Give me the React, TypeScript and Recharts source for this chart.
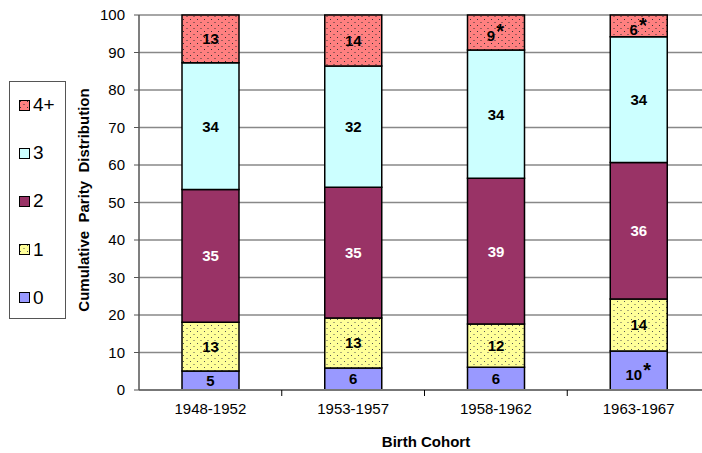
import React from 'react';
import { BarChart, Bar, XAxis, YAxis, CartesianGrid, LabelList } from 'recharts';

const cohorts = ['1948-1952', '1953-1957', '1958-1962', '1963-1967'];
const parity0 = [5.1, 5.9, 6.1, 10.4];
const parity1 = [13.0, 13.3, 11.5, 13.9];
const parity2 = [35.4, 34.9, 38.9, 36.4];
const parity3 = [33.8, 32.3, 34.2, 33.5];
const parity4 = [12.7, 13.6, 9.3, 5.8];
// asterisk marks in the source
const starred0 = [false, false, false, true];
const starred4 = [false, false, true, true];
const yTicks = [0, 10, 20, 30, 40, 50, 60, 70, 80, 90, 100];

const data = cohorts.map((c, i) => ({
  cohort: c,
  p0: parity0[i],
  p1: parity1[i],
  p2: parity2[i],
  p3: parity3[i],
  p4: parity4[i],
}));

const series = [
  { key: 'p0', name: '0', fill: '#9999FF', label: '#000', stars: starred0 },
  { key: 'p1', name: '1', fill: 'url(#dotsYellow)', label: '#000', stars: null },
  { key: 'p2', name: '2', fill: '#993366', label: '#fff', stars: null },
  { key: 'p3', name: '3', fill: '#CCFFFF', label: '#000', stars: null },
  { key: 'p4', name: '4+', fill: 'url(#dotsRed)', label: '#000', stars: starred4 },
];

const FONT = 'Arial, "Liberation Sans", sans-serif';
const CHART_W = 712;
const Y_AXIS_W = 139;
const BAND = (CHART_W - Y_AXIS_W - 2) / cohorts.length;

const makeLabel = (color: string, stars: boolean[] | null) => (props: any) => {
  const { x, y, width, height, value, index } = props;
  const cx = x + width / 2;
  const cy = y + height / 2;
  const n = String(Math.round(value));
  if (stars && stars[index]) {
    const nx = cx - 5;
    return (
      <g>
        <text x={nx} y={cy + 9} textAnchor="middle" fill={color} fontSize={15} fontWeight="bold" fontFamily={FONT}>{n}</text>
        <text x={nx + n.length * 4.2 + 1} y={cy + 6} textAnchor="start" fill={color} fontSize={20} fontWeight="bold" fontFamily={FONT}>*</text>
      </g>
    );
  }
  return (
    <text x={cx} y={cy + 5.5} textAnchor="middle" fill={color} fontSize={15} fontWeight="bold" fontFamily={FONT}>{n}</text>
  );
};

const CohortTick = (props: any) => {
  const { x, y, payload } = props;
  return (
    <g>
      <text x={x} y={y + 24} textAnchor="middle" fill="#000" fontSize={15} fontFamily={FONT}>{payload.value}</text>
      <line x1={x + BAND / 2} x2={x + BAND / 2} y1={y} y2={y + 6} stroke="#000" strokeWidth={1} />
    </g>
  );
};

export default function App() {
  return (
    <div style={{ position: 'absolute', left: 0, top: 0, width: 702, height: 453, overflow: 'hidden', background: '#fff', fontFamily: FONT }}>
      <BarChart width={CHART_W} height={453} data={data} margin={{ top: 15, right: 2, bottom: 0, left: 0 }} barSize={57}>
        <defs>
          <pattern id="dotsYellow" width="7" height="6" patternUnits="userSpaceOnUse">
            <rect width="7" height="6" fill="#FFFF99" />
            <rect x="1" y="1" width="1" height="1" fill="#555" />
            <rect x="4.5" y="4" width="1" height="1" fill="#555" />
          </pattern>
          <pattern id="dotsRed" width="7" height="6" patternUnits="userSpaceOnUse">
            <rect width="7" height="6" fill="#FF8080" />
            <rect x="1" y="1" width="1" height="1" fill="#333" />
            <rect x="4.5" y="4" width="1" height="1" fill="#333" />
          </pattern>
        </defs>
        <CartesianGrid vertical={false} stroke="#888" strokeWidth={1.5} />
        <XAxis
          dataKey="cohort"
          height={63}
          tick={<CohortTick />}
          tickLine={false}
          tickSize={0}
          tickMargin={0}
          axisLine={{ stroke: '#777', strokeWidth: 2 }}
          interval={0}
        />
        <YAxis
          width={Y_AXIS_W}
          domain={[0, 100]}
          ticks={yTicks}
          tickSize={5}
          tickMargin={9}
          tick={{ fill: '#000', fontSize: 15, fontFamily: FONT }}
          tickLine={{ stroke: '#555' }}
          axisLine={{ stroke: '#555', strokeWidth: 1.5 }}
        />
        {series.map((s) => (
          <Bar key={s.key} dataKey={s.key} stackId="a" fill={s.fill} stroke="#000" strokeWidth={1.5} isAnimationActive={false}>
            <LabelList dataKey={s.key} content={makeLabel(s.label, s.stars)} />
          </Bar>
        ))}
      </BarChart>

      <div style={{ position: 'absolute', left: 9, top: 81, width: 57, height: 238, border: '1px solid #555', boxSizing: 'border-box' }}>
        {[...series].reverse().map((s, i) => (
          <div key={s.key} style={{ position: 'absolute', left: 9, top: 11 + i * 48.2, height: 24, display: 'flex', alignItems: 'center' }}>
            <svg width={11} height={11} style={{ marginRight: 3 }}>
              <rect x={0.5} y={0.5} width={10} height={10} fill={s.fill} stroke="#000" strokeWidth={1} />
            </svg>
            <span style={{ fontSize: 19, color: '#000', lineHeight: '24px' }}>{s.name}</span>
          </div>
        ))}
      </div>

      <div style={{ position: 'absolute', left: 83, top: 200, transform: 'translate(-50%, -50%) rotate(-90deg)', whiteSpace: 'pre', fontSize: 15, fontWeight: 'bold', color: '#000' }}>
        {'Cumulative  Parity  Distribution'}
      </div>
      <div style={{ position: 'absolute', left: 426, top: 441, transform: 'translate(-50%, -50%)', whiteSpace: 'pre', fontSize: 15, fontWeight: 'bold', color: '#000' }}>
        Birth Cohort
      </div>
    </div>
  );
}
